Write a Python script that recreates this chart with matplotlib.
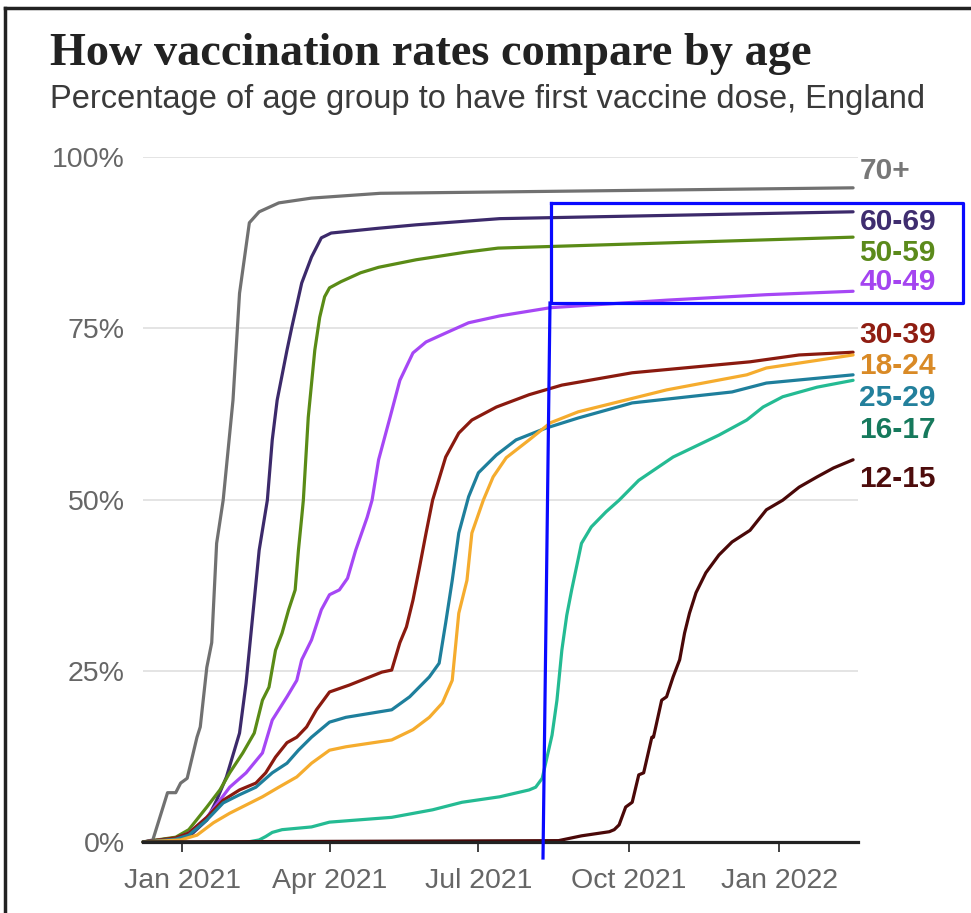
import numpy as np
import matplotlib
matplotlib.use('Agg')
import matplotlib.pyplot as plt
import matplotlib.dates as mdates
from matplotlib.lines import Line2D

# values: first-dose share (%) per age group, England
d_70 = ['2020-12-08', '2020-12-14', '2020-12-23', '2020-12-28', '2020-12-31', '2021-01-04', '2021-01-10',
        '2021-01-12', '2021-01-16', '2021-01-19', '2021-01-22', '2021-01-26', '2021-02-01', '2021-02-05',
        '2021-02-11', '2021-02-17', '2021-03-01', '2021-03-21', '2021-05-02', '2021-07-14', '2022-02-15']
v_70 = [0, 0.3, 7.2, 7.2, 8.6, 9.3, 15.3, 16.8, 25.5, 29.1, 43.6, 49.9, 64.5, 80.1, 90.4, 92.0, 93.3, 94.0,
        94.7, 94.9, 95.5]

d_60 = ['2020-12-08', '2020-12-28', '2021-01-07', '2021-01-16', '2021-01-22', '2021-01-28', '2021-02-05',
        '2021-02-09', '2021-02-14', '2021-02-17', '2021-02-22', '2021-02-25', '2021-02-28', '2021-03-06',
        '2021-03-09', '2021-03-15', '2021-03-21', '2021-03-27', '2021-04-02', '2021-05-01', '2021-05-24',
        '2021-07-14', '2022-02-15']
v_60 = [0, 0.6, 1.2, 3.2, 6.1, 9.5, 15.9, 23.2, 35.3, 42.6, 49.9, 58.7, 64.5, 71.8, 75.2, 81.6, 85.4, 88.2,
        88.9, 89.6, 90.1, 91.0, 92.0]

d_50 = ['2020-12-08', '2020-12-28', '2021-01-05', '2021-01-16', '2021-01-24', '2021-01-30', '2021-02-07',
        '2021-02-14', '2021-02-19', '2021-02-23', '2021-02-27', '2021-03-03', '2021-03-07', '2021-03-11',
        '2021-03-13', '2021-03-15', '2021-03-16', '2021-03-19', '2021-03-23', '2021-03-26', '2021-03-29',
        '2021-04-01', '2021-04-08', '2021-04-20', '2021-05-01', '2021-05-24', '2021-06-23', '2021-07-13',
        '2022-02-15']
v_50 = [0, 0.7, 1.8, 5.1, 7.6, 10.1, 13.0, 15.9, 20.7, 22.6, 28.0, 30.5, 33.9, 36.8, 42.6, 47.4, 49.9, 62.0,
        71.8, 76.6, 79.6, 80.9, 81.8, 83.1, 83.9, 85.0, 86.1, 86.7, 88.3]

d_40 = ['2020-12-08', '2020-12-28', '2021-01-05', '2021-01-16', '2021-01-24', '2021-01-30', '2021-02-09',
        '2021-02-19', '2021-02-25', '2021-03-06', '2021-03-12', '2021-03-15', '2021-03-21', '2021-03-27',
        '2021-04-01', '2021-04-07', '2021-04-12', '2021-04-17', '2021-04-24', '2021-04-27', '2021-05-01',
        '2021-05-08', '2021-05-14', '2021-05-22', '2021-05-30', '2021-06-11', '2021-06-25', '2021-07-14',
        '2021-08-14', '2021-10-24', '2021-12-24', '2022-02-15']
v_40 = [0, 0.5, 1.3, 3.6, 6.1, 8.0, 10.1, 13.0, 17.8, 21.2, 23.6, 26.6, 29.5, 33.9, 36.1, 36.8, 38.5, 42.6,
        47.4, 49.9, 55.8, 62.0, 67.4, 71.4, 73.0, 74.3, 75.8, 76.8, 78.0, 79.1, 79.9, 80.4]

d_30 = ['2020-12-08', '2020-12-28', '2021-01-05', '2021-01-16', '2021-01-26', '2021-02-05', '2021-02-15',
        '2021-02-21', '2021-02-27', '2021-03-06', '2021-03-12', '2021-03-18', '2021-03-24', '2021-04-01',
        '2021-04-13', '2021-05-03', '2021-05-09', '2021-05-14', '2021-05-18', '2021-05-22', '2021-05-26',
        '2021-05-30', '2021-06-03', '2021-06-11', '2021-06-19', '2021-06-27', '2021-07-12', '2021-08-01',
        '2021-08-21', '2021-10-03', '2021-12-14', '2022-01-13', '2022-02-15']
v_30 = [0, 0.6, 1.3, 3.6, 6.1, 7.6, 8.6, 10.1, 12.4, 14.5, 15.3, 16.8, 19.3, 21.9, 22.9, 24.8, 25.1, 29.1,
        31.4, 35.3, 40.1, 45.1, 49.9, 56.2, 59.7, 61.6, 63.5, 65.3, 66.7, 68.5, 70.1, 71.1, 71.5]

d_25 = ['2020-12-08', '2020-12-28', '2021-01-05', '2021-01-16', '2021-01-26', '2021-02-05', '2021-02-15',
        '2021-02-25', '2021-03-06', '2021-03-13', '2021-03-21', '2021-04-01', '2021-04-11', '2021-05-09',
        '2021-05-20', '2021-06-01', '2021-06-07', '2021-06-11', '2021-06-15', '2021-06-19', '2021-06-25',
        '2021-07-01', '2021-07-12', '2021-07-24', '2021-08-11', '2021-08-31', '2021-10-03', '2021-12-03',
        '2021-12-24', '2022-02-15']
v_25 = [0, 0.4, 1.0, 3.2, 5.7, 6.9, 8.0, 10.1, 11.5, 13.4, 15.3, 17.5, 18.2, 19.3, 21.2, 24.1, 26.1, 32.0,
        38.2, 45.1, 50.4, 53.9, 56.5, 58.7, 60.4, 61.9, 64.1, 65.7, 67.0, 68.2]

d_18 = ['2020-12-08', '2020-12-31', '2021-01-10', '2021-01-20', '2021-01-30', '2021-02-09', '2021-02-19',
        '2021-03-01', '2021-03-12', '2021-03-21', '2021-04-01', '2021-04-11', '2021-05-09', '2021-05-22',
        '2021-06-01', '2021-06-09', '2021-06-15', '2021-06-17', '2021-06-19', '2021-06-24', '2021-06-27',
        '2021-07-04', '2021-07-10', '2021-07-18', '2021-08-01', '2021-08-14', '2021-08-31', '2021-10-24',
        '2021-12-12', '2021-12-24', '2022-02-15']
v_18 = [0, 0.3, 1.0, 2.8, 4.2, 5.4, 6.6, 8.0, 9.5, 11.5, 13.4, 13.9, 14.9, 16.4, 18.2, 20.3, 23.6, 28.5,
        33.4, 38.2, 45.1, 49.9, 53.3, 56.1, 58.7, 61.2, 62.8, 66.0, 68.2, 69.2, 71.1]

d_16 = ['2020-12-08', '2021-02-10', '2021-02-17', '2021-02-21', '2021-02-25', '2021-03-03', '2021-03-21',
        '2021-04-01', '2021-05-09', '2021-06-03', '2021-06-21', '2021-07-14', '2021-08-01', '2021-08-05',
        '2021-08-09', '2021-08-15', '2021-08-18', '2021-08-21', '2021-08-24', '2021-08-27', '2021-09-02',
        '2021-09-08', '2021-09-17', '2021-09-25', '2021-10-07', '2021-10-28', '2021-11-25', '2021-12-12',
        '2021-12-22', '2022-01-03', '2022-01-24', '2022-02-15']
v_16 = [0, 0.0, 0.3, 0.8, 1.4, 1.8, 2.2, 2.9, 3.6, 4.7, 5.8, 6.6, 7.6, 8.0, 9.3, 15.6, 20.7, 28.0, 33.1,
        36.8, 43.6, 46.0, 48.2, 49.9, 52.8, 56.2, 59.4, 61.6, 63.5, 65.0, 66.4, 67.4]

d_12 = ['2020-12-08', '2021-08-19', '2021-09-02', '2021-09-19', '2021-09-22', '2021-09-25', '2021-09-29',
        '2021-10-03', '2021-10-07', '2021-10-10', '2021-10-15', '2021-10-16', '2021-10-21', '2021-10-24',
        '2021-10-28', '2021-11-01', '2021-11-04', '2021-11-07', '2021-11-11', '2021-11-17', '2021-11-25',
        '2021-12-03', '2021-12-14', '2021-12-24', '2022-01-03', '2022-01-13', '2022-01-24', '2022-02-03',
        '2022-02-15']
v_12 = [0, 0.2, 0.9, 1.5, 1.8, 2.5, 5.1, 5.8, 9.8, 10.1, 15.3, 15.3, 20.7, 21.2, 24.1, 26.6, 30.5, 33.4,
        36.4, 39.3, 41.9, 43.8, 45.5, 48.5, 49.9, 51.8, 53.3, 54.6, 55.8]

groups = ['70+', '60-69', '50-59', '40-49', '30-39', '25-29', '18-24', '16-17', '12-15']
series = [(d_70, v_70), (d_60, v_60), (d_50, v_50), (d_40, v_40), (d_30, v_30),
          (d_25, v_25), (d_18, v_18), (d_16, v_16), (d_12, v_12)]

line_colors = ['#717171', '#3c2a6b', '#5a8b16', '#a647f5', '#8a1a0f', '#1e7f9c', '#f5ac2e', '#24bb93', '#4a0808']
label_colors = ['#777777', '#3f2d6f', '#5b8a1b', '#a444f0', '#8f1d12', '#23809c', '#d98a26', '#16795c', '#4d0c0c']
# dodged label heights (in %) so the names don't overlap
label_y = [98.0, 90.5, 86.0, 81.8, 74.0, 64.8, 69.5, 60.1, 53.0]

W, H = 971, 913
fig = plt.figure(figsize=(W / 100, H / 100), dpi=100)
ax = fig.add_axes([143 / W, 71 / H, 715 / W, 685 / H])

for (d, v), lc in zip(series, line_colors):
    ax.plot(np.array(d, dtype='datetime64[D]'), v, color=lc, lw=2.3, clip_on=False,
            solid_joinstyle='round', solid_capstyle='round')

for name, ly, tc in zip(groups, label_y, label_colors):
    ax.annotate(name, xy=(1, ly), xycoords=('axes fraction', 'data'), xytext=(1, 0),
                textcoords='offset points', ha='left', va='center', fontsize=21.5,
                fontweight='bold', color=tc, family='Liberation Sans', annotation_clip=False)

ax.set_xlim(np.datetime64('2020-12-08'), np.datetime64('2022-02-18'))
ax.set_ylim(0, 100)
ax.set_yticks([0, 25, 50, 75, 100])
ax.set_yticklabels(['0%', '25%', '50%', '75%', '100%'])
ax.xaxis.set_major_locator(mdates.MonthLocator(bymonth=[1, 4, 7, 10]))
ax.xaxis.set_major_formatter(mdates.DateFormatter('%b %Y'))
ax.yaxis.grid(True, color='#dcdcdc', lw=1.1)
ax.set_axisbelow(True)
for s in ['top', 'right', 'left']:
    ax.spines[s].set_visible(False)
ax.spines['bottom'].set_color('#222222')
ax.spines['bottom'].set_linewidth(2.3)
ax.tick_params(axis='y', length=0, pad=13, labelsize=20.5, labelcolor='#666666')
ax.tick_params(axis='x', length=7.5, width=1.3, color='#333333', pad=11, labelsize=20.5, labelcolor='#666666')
for lab in ax.get_xticklabels() + ax.get_yticklabels():
    lab.set_family('Liberation Sans')

fig.text(50 / W, 1 - 65 / H, 'How vaccination rates compare by age', fontsize=33.3,
         family='Liberation Serif', fontweight='bold', color='#222222', va='baseline')
fig.text(50 / W, 1 - 108 / H, 'Percentage of age group to have first vaccine dose, England',
         fontsize=23.5, family='Liberation Sans', color='#3a3a3a', va='baseline')

# screenshot frame
fig.add_artist(Line2D([5 / W, 5 / W], [0, 1 - 8 / H], transform=fig.transFigure, color='#222222', lw=2.5))
fig.add_artist(Line2D([5 / W, 1], [1 - 8 / H, 1 - 8 / H], transform=fig.transFigure, color='#222222', lw=2.5))

# blue highlight drawn over the chart
bx = [551, 963, 963, 551, 551]
by = [203, 203, 303, 303, 203]
fig.add_artist(Line2D([x / W for x in bx], [1 - y / H for y in by], transform=fig.transFigure,
                      color='#0a0aff', lw=2.3))
fig.add_artist(Line2D([550 / W, 543 / W], [1 - 303 / H, 1 - 858 / H], transform=fig.transFigure,
                      color='#0a0aff', lw=2.3))

fig.savefig('out.png', dpi=100)
